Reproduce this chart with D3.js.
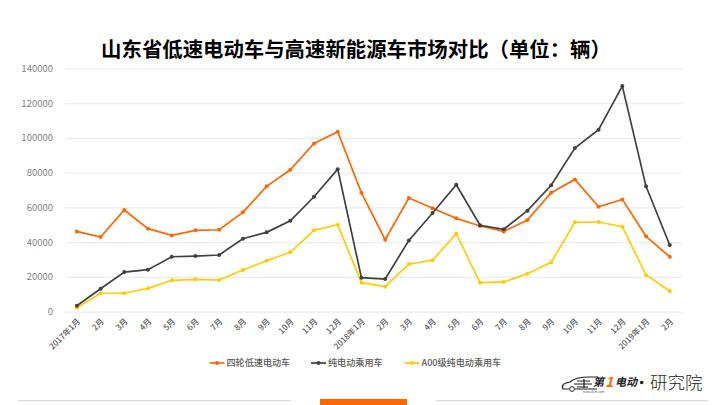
<!DOCTYPE html>
<html>
<head>
<meta charset="utf-8">
<script src="https://cdn.jsdelivr.net/npm/d3@7"></script>
<style>
html, body { margin: 0; padding: 0; background: #fff; }
svg { display: block; }
text { font-family: "Noto Sans CJK SC", "Noto Sans", sans-serif; }
</style>
</head>
<body>
<svg id="chart" width="720" height="405"></svg>
<script>
const months = ['2017年1月','2月','3月','4月','5月','6月','7月','8月','9月','10月','11月','12月',
	'2018年1月','2月','3月','4月','5月','6月','7月','8月','9月','10月','11月','12月','2019年1月','2月'];

const lowSpeed = [46200,42950,58500,47750,43900,46800,47150,57150,72100,81650,96800,103500,
	68400,41400,65400,59450,53700,49300,46200,52700,68400,76100,60400,64600,43350,31600];
const pureEv = [3450,13200,22800,24200,31600,32000,32600,42000,45650,52300,66100,82000,
	19550,18800,41000,56750,73000,49700,47400,58100,72700,94100,104650,129800,72100,38350];
const a00Ev = [2300,10600,10600,13450,18050,18600,18200,24000,29300,34150,46800,50000,
	16700,14400,27400,29550,44850,16700,17100,21850,28400,51400,51600,48900,21100,11900];

const seriesNames = ['四轮低速电动车','纯电动乘用车','A00级纯电动乘用车'];
const seriesColors = ['#ff6600','#404040','#ffcc00'];
const yTicks = [0,20000,40000,60000,80000,100000,120000,140000];

const svg = d3.select('#chart');

let x = d3.scaleBand().domain(d3.range(months.length)).range([65, 681.6]);
let y = d3.scaleLinear().domain([0, 140000]).range([311.7, 68.3]);
let cx = i => x(i) + x.bandwidth() / 2;

svg.append('text')
	.attr('x', 356).attr('y', 57)
	.attr('text-anchor', 'middle')
	.attr('font-size', 20.4).attr('font-weight', 700)
	.attr('fill', '#000')
	.text('山东省低速电动车与高速新能源车市场对比（单位：辆）');

// grid + y labels
let yAxis = d3.axisLeft(y).tickValues(yTicks).tickSize(-(681.6 - 65)).tickPadding(12).tickFormat(d => d);
let yG = svg.append('g').attr('transform', 'translate(65,0)').call(yAxis);
yG.select('.domain').remove();
yG.selectAll('.tick line').attr('stroke', '#ebebeb').attr('stroke-width', 1.3);
yG.selectAll('.tick text').attr('fill', '#7f7f7f').attr('font-size', 9.5).attr('font-family', '"Noto Sans", sans-serif');

// x labels
svg.append('g').selectAll('text').data(months).join('text')
	.attr('transform', (d, i) => `translate(${cx(i) + 4},${322}) rotate(-45)`)
	.attr('text-anchor', 'end')
	.attr('font-size', 8.2)
	.attr('font-weight', 500)
	.attr('fill', '#595959')
	.text(d => d);

let line = d3.line().x((d, i) => cx(i)).y(d => y(d));

[a00Ev, lowSpeed, pureEv].forEach((vals) => {
	let c = vals === lowSpeed ? seriesColors[0] : vals === pureEv ? seriesColors[1] : seriesColors[2];
	svg.append('path').attr('d', line(vals)).attr('fill', 'none').attr('stroke', c).attr('stroke-width', 1.7);
	svg.append('g').selectAll('circle').data(vals).join('circle')
		.attr('cx', (d, i) => cx(i)).attr('cy', d => y(d)).attr('r', 2).attr('fill', c);
});

// legend
let legendX = [209.5, 311, 404.5];
seriesNames.forEach((name, i) => {
	let g = svg.append('g').attr('transform', `translate(${legendX[i]},363)`);
	g.append('line').attr('x1', 0).attr('x2', 15).attr('stroke', seriesColors[i]).attr('stroke-width', 1.7);
	g.append('circle').attr('cx', 7.5).attr('r', 2).attr('fill', seriesColors[i]);
	g.append('text').attr('x', 17).attr('y', 3.3).attr('font-size', 9.1).attr('font-weight', 500).attr('fill', '#595959').text(name);
});

// footer rules
svg.append('rect').attr('x', 18).attr('y', 400).attr('width', 273).attr('height', 1.2).attr('fill', '#d9d9d9');
svg.append('rect').attr('x', 436).attr('y', 400).attr('width', 272).attr('height', 1.2).attr('fill', '#d9d9d9');
svg.append('rect').attr('x', 320).attr('y', 399).attr('width', 87).attr('height', 6).attr('fill', '#ff6600');

// logo
let logo = svg.append('g');
logo.append('path')
	.attr('d', 'M569 389 L563 389 C561 385 564 383 570 382 C574 378 580 377 590 377 L598 377 M575 389 L597 389')
	.attr('fill', 'none').attr('stroke', '#222').attr('stroke-width', 1.2);
logo.append('path')
	.attr('d', 'M577 381 L590 381 M574 384 L592 384 M577 387 L588 387 M584 379 L584 388')
	.attr('fill', 'none').attr('stroke', '#222').attr('stroke-width', 1.2);
logo.append('circle').attr('cx', 572).attr('cy', 389).attr('r', 2.4).attr('fill', 'none').attr('stroke', '#222').attr('stroke-width', 1);
logo.append('text').attr('x', 593).attr('y', 386).attr('font-size', 11).attr('font-weight', 700)
	.attr('font-style', 'italic').attr('fill', '#222').text('第');
logo.append('text').attr('x', 605).attr('y', 387).attr('font-size', 14).attr('font-weight', 700)
	.attr('font-style', 'italic').attr('fill', '#ff6600').text('1');
logo.append('text').attr('x', 615).attr('y', 386).attr('font-size', 11).attr('font-weight', 700)
	.attr('font-style', 'italic').attr('fill', '#222').text('电动');
logo.append('text').attr('x', 583).attr('y', 392.5).attr('font-size', 3).attr('fill', '#555').text('www.d1ev.com');
logo.append('circle').attr('cx', 641.7).attr('cy', 382.5).attr('r', 1.8).attr('fill', '#222');
logo.append('text').attr('x', 650).attr('y', 388.5).attr('font-size', 17.5).attr('font-weight', 300)
	.attr('fill', '#222').text('研究院');
</script>
</body>
</html>
